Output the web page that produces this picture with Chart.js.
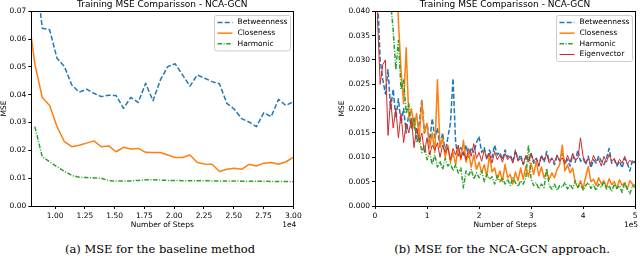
<!DOCTYPE html>
<html>
<head>
<meta charset="utf-8">
<script src="https://cdn.jsdelivr.net/npm/chart.js@4"></script>
<style>
  body { margin: 0; background: #fff; width: 640px; height: 256px; overflow: hidden; position: relative; }
  canvas { position: absolute; top: 0; }
  #c1 { left: 0; }
  #c2 { left: 320px; }
  .cap { position: absolute; top: 241px; font-family: "DejaVu Serif"; font-size: 11.5px; line-height: 16px; color: #000; white-space: nowrap; transform: translateX(-50%); }
</style>
</head>
<body>
<canvas id="c1" width="320" height="240"></canvas>
<canvas id="c2" width="320" height="240"></canvas>
<div class="cap" style="left:160px">(a) MSE for the baseline method</div>
<div class="cap" style="left:502px">(b) MSE for the NCA-GCN approach.</div>
<script>
// ---- left panel: baseline method ----
const leftSteps = [7680, 8300, 8920, 9540, 10160, 10780, 11400, 12020, 12640, 13260,
  13880, 14500, 15120, 15740, 16360, 16980, 17600, 18220, 18840, 19460,
  20080, 20700, 21320, 21940, 22560, 23180, 23800, 24420, 25040, 25660,
  26280, 26900, 27520, 28140, 28760, 29380, 30000];
const leftBetweenness = [0.100, 0.087, 0.0639, 0.0633, 0.0531, 0.0501, 0.0435, 0.0409, 0.0420, 0.0405,
  0.0393, 0.0398, 0.0397, 0.0351, 0.0390, 0.0372, 0.0441, 0.0378, 0.0453, 0.0501,
  0.0511, 0.0471, 0.0431, 0.0471, 0.0459, 0.0447, 0.0439, 0.0369, 0.0348, 0.0314,
  0.0302, 0.0285, 0.0335, 0.0321, 0.0383, 0.0361, 0.0375];
const leftCloseness = [0.071, 0.051, 0.0390, 0.0361, 0.0285, 0.0231, 0.0213, 0.0218, 0.0226, 0.0234,
  0.0213, 0.0216, 0.0195, 0.0211, 0.0205, 0.0207, 0.0193, 0.0192, 0.0192, 0.0183,
  0.0174, 0.0174, 0.0183, 0.0156, 0.0151, 0.0150, 0.0124, 0.0132, 0.0136, 0.0132,
  0.0150, 0.0144, 0.0154, 0.0156, 0.0150, 0.0159, 0.0175];
const leftHarmonic = [null, 0.0285, 0.0177, 0.0159, 0.0141, 0.0125, 0.0110, 0.0103, 0.0102, 0.0101,
  0.0100, 0.0091, 0.0090, 0.0090, 0.0090, 0.0092, 0.0094, 0.0094, 0.0093, 0.0092,
  0.0092, 0.0091, 0.0091, 0.0091, 0.0091, 0.0090, 0.0090, 0.0090, 0.0090, 0.0089,
  0.0089, 0.0089, 0.0089, 0.0088, 0.0088, 0.0088, 0.0087];
const leftXTicks = [10000, 12500, 15000, 17500, 20000, 22500, 25000, 27500, 30000];
const leftYTicks = [0, 0.01, 0.02, 0.03, 0.04, 0.05, 0.06, 0.07];

// ---- right panel: NCA-GCN ----
const rightSteps = [0, 5000, 10000, 15000, 20000, 25000, 30000, 35000, 40000, 45000,
  50000, 55000, 60000, 65000, 70000, 75000, 80000, 85000, 90000, 95000,
  100000, 105000, 110000, 115000, 120000, 125000, 130000, 135000, 140000, 145000,
  150000, 155000, 160000, 165000, 170000, 175000, 180000, 185000, 190000, 195000,
  200000, 205000, 210000, 215000, 220000, 225000, 230000, 235000, 240000, 245000,
  250000, 255000, 260000, 265000, 270000, 275000, 280000, 285000, 290000, 295000,
  300000, 305000, 310000, 315000, 320000, 325000, 330000, 335000, 340000, 345000,
  350000, 355000, 360000, 365000, 370000, 375000, 380000, 385000, 390000, 395000,
  400000, 405000, 410000, 415000, 420000, 425000, 430000, 435000, 440000, 445000,
  450000, 455000, 460000, 465000, 470000, 475000, 480000, 485000, 490000, 495000,
  500000];
const rightBetweenness = [0.075, 0.043, 0.030, 0.026, 0.023, 0.028, 0.020, 0.024, 0.018, 0.022,
  0.017, 0.020, 0.015, 0.019, 0.016, 0.018, 0.014, 0.017, 0.0218, 0.015,
  0.017, 0.013, 0.018, 0.014, 0.016, 0.012, 0.015, 0.011, 0.014, 0.017,
  0.0262, 0.013, 0.010, 0.012, 0.0105, 0.0125, 0.010, 0.012, 0.011, 0.013,
  0.0143, 0.011, 0.012, 0.0095, 0.0115, 0.010, 0.0125, 0.0105, 0.011, 0.0095,
  0.0115, 0.010, 0.0105, 0.009, 0.0115, 0.0095, 0.0105, 0.0085, 0.010, 0.0093,
  0.0108, 0.0088, 0.0098, 0.0082, 0.0105, 0.009, 0.0112, 0.0092, 0.0098, 0.0085,
  0.0102, 0.0093, 0.0108, 0.0088, 0.0096, 0.0082, 0.0105, 0.009, 0.0115, 0.0092,
  0.0098, 0.0085, 0.0102, 0.0078, 0.0095, 0.0088, 0.0103, 0.0092, 0.0085, 0.0098,
  0.0118, 0.0088, 0.0095, 0.0082, 0.0092, 0.0078, 0.0098, 0.0088, 0.0072, 0.0095,
  0.0088];
const rightCloseness = [null, null, null, null, null, null, null, null, 0.055, 0.038,
  0.028, 0.021, 0.0325, 0.018, 0.020, 0.016, 0.019, 0.014, 0.0215, 0.015,
  0.017, 0.012, 0.015, 0.011, 0.0259, 0.012, 0.014, 0.010, 0.0125, 0.009,
  0.011, 0.0085, 0.012, 0.0095, 0.0135, 0.009, 0.011, 0.008, 0.0105, 0.0075,
  0.009, 0.0068, 0.0085, 0.006, 0.0105, 0.007, 0.0078, 0.0055, 0.0072, 0.005,
  0.0085, 0.0058, 0.0065, 0.0045, 0.007, 0.0052, 0.0078, 0.0055, 0.0082, 0.006,
  0.0088, 0.0065, 0.0092, 0.0062, 0.008, 0.0058, 0.007, 0.0055, 0.0068, 0.0058,
  0.0075, 0.0085, 0.0125, 0.0072, 0.0084, 0.0068, 0.0078, 0.0048, 0.0038, 0.0052,
  0.0035, 0.006, 0.0081, 0.005, 0.0055, 0.0042, 0.0058, 0.0045, 0.0052, 0.0038,
  0.0056, 0.0044, 0.005, 0.0036, 0.0054, 0.0042, 0.0048, 0.0035, 0.0052, 0.0045,
  0.0042];
const rightHarmonic = [null, null, null, null, null, null, 0.042, 0.036, 0.028, 0.034,
  0.024, 0.026, 0.019, 0.021, 0.016, 0.018, 0.013, 0.0145, 0.011, 0.0125,
  0.0095, 0.011, 0.0085, 0.0105, 0.008, 0.0092, 0.0075, 0.0098, 0.0082, 0.0088,
  0.0072, 0.0085, 0.0068, 0.0078, 0.0037, 0.0072, 0.0062, 0.0075, 0.0055, 0.0068,
  0.0058, 0.0072, 0.005, 0.0065, 0.0055, 0.006, 0.0045, 0.0062, 0.005, 0.0058,
  0.0045, 0.0055, 0.0042, 0.0058, 0.0048, 0.004, 0.0052, 0.0045, 0.0058, 0.0125,
  0.0055, 0.0042, 0.0048, 0.0035, 0.0045, 0.0038, 0.0077, 0.0042, 0.0035, 0.0045,
  0.0032, 0.0042, 0.0038, 0.0048, 0.0035, 0.0044, 0.0036, 0.0052, 0.0038, 0.0046,
  0.0033, 0.0042, 0.0048, 0.0036, 0.0044, 0.0032, 0.0045, 0.0038, 0.005, 0.0035,
  0.0042, 0.003, 0.0045, 0.0036, 0.0042, 0.0028, 0.0048, 0.0034, 0.0025, 0.0042,
  0.0038];
const rightEigenvector = [0.06, 0.038, 0.025, 0.029, 0.030, 0.0145, 0.022, 0.016, 0.020, 0.014,
  0.019, 0.013, 0.017, 0.015, 0.018, 0.012, 0.016, 0.013, 0.015, 0.011,
  0.014, 0.0105, 0.0125, 0.0115, 0.013, 0.010, 0.0125, 0.011, 0.012, 0.0095,
  0.0118, 0.0105, 0.0125, 0.0098, 0.0112, 0.0095, 0.0118, 0.0102, 0.0128, 0.0098,
  0.011, 0.0092, 0.0115, 0.0098, 0.0108, 0.0088, 0.0112, 0.0095, 0.0105, 0.009,
  0.0108, 0.0095, 0.0102, 0.0088, 0.0112, 0.0092, 0.0098, 0.0086, 0.0104, 0.009,
  0.0108, 0.0092, 0.0098, 0.0084, 0.0102, 0.0094, 0.0106, 0.0088, 0.0098, 0.009,
  0.0105, 0.0092, 0.0099, 0.0086, 0.0104, 0.009, 0.0108, 0.0094, 0.0098, 0.014,
  0.0102, 0.0088, 0.0098, 0.0085, 0.0104, 0.0092, 0.0096, 0.0082, 0.0102, 0.009,
  0.0106, 0.0092, 0.0098, 0.0084, 0.0096, 0.0088, 0.0102, 0.0086, 0.0094, 0.0088,
  0.0092];
const rightXTicks = [0, 100000, 200000, 300000, 400000, 500000];
const rightYTicks = [0, 0.005, 0.01, 0.015, 0.02, 0.025, 0.03, 0.035, 0.04];

const BLUE = "#1f77b4", ORANGE = "#ff7f0e", GREEN = "#2ca02c", RED = "#d62728";
const DASHED = [5, 2.2];
const DASHDOT = [4.5, 1.6, 1, 1.6];

Chart.defaults.font.family = '"DejaVu Sans"';
Chart.defaults.font.size = 7.5;
Chart.defaults.color = "#000";

function pts(xs, ys) {
    return xs.map((x, i) => ({ x: x, y: ys[i] }));
}

function serie(label, xs, ys, color, dash, width, order) {
    return {
        label, data: pts(xs, ys), order,
        borderColor: color, backgroundColor: color,
        borderWidth: width, borderDash: dash, borderJoinStyle: "round",
        pointRadius: 0, tension: 0, fill: false
    };
}

// axes box, legend and the offset text (1e4 / 1e5)
const framePlugin = {
    id: "frame",
    afterDatasetsDraw(chart) {
        const { ctx, chartArea: a } = chart;
        ctx.save();
        ctx.strokeStyle = "#000";
        ctx.lineWidth = 1;
        ctx.strokeRect(Math.round(a.left) + 0.5, Math.round(a.top) + 0.5,
            Math.round(a.right - a.left), Math.round(a.bottom - a.top));
        ctx.restore();
    },
    afterDraw(chart, args, opts) {
        const { ctx, chartArea: a } = chart;
        const items = chart.data.datasets;
        ctx.save();
        ctx.font = '7.5px "DejaVu Sans"';
        const tw = Math.max(...items.map(d => ctx.measureText(d.label).width));
        const w = 3 + 15 + 5 + tw + 3;
        const h = 7 + (items.length - 1) * 10.67 + 7;
        const x0 = Math.round(a.right - 3 - w) + 0.5;
        const y0 = Math.round(a.top + 3.5) + 0.5;
        ctx.fillStyle = "rgba(255,255,255,0.8)";
        ctx.strokeStyle = "#cccccc";
        ctx.lineWidth = 1;
        ctx.beginPath();
        if (ctx.roundRect) ctx.roundRect(x0, y0, w, h, 2); else ctx.rect(x0, y0, w, h);
        ctx.fill();
        ctx.stroke();
        items.forEach((d, i) => {
            const y = y0 + 7 + i * 10.67;
            ctx.strokeStyle = d.borderColor;
            ctx.lineWidth = d.borderWidth;
            ctx.setLineDash(d.borderDash || []);
            ctx.beginPath();
            ctx.moveTo(x0 + 3, y);
            ctx.lineTo(x0 + 18, y);
            ctx.stroke();
            ctx.setLineDash([]);
            ctx.fillStyle = "#000";
            ctx.textAlign = "left";
            ctx.textBaseline = "middle";
            ctx.fillText(d.label, x0 + 23, y);
        });
        ctx.textAlign = "right";
        ctx.textBaseline = "middle";
        ctx.fillText(opts.offsetText, a.right + 3, 225);
        ctx.restore();
    }
};

function makeChart(id, datasets, o) {
    return new Chart(document.getElementById(id), {
        type: "line",
        data: { datasets },
        plugins: [framePlugin],
        options: {
            responsive: false,
            animation: false,
            devicePixelRatio: 1,
            layout: { padding: { left: o.padLeft, right: o.padRight, top: 0, bottom: 10 } },
            scales: {
                x: {
                    type: "linear", min: o.xMin, max: o.xMax,
                    afterBuildTicks: s => { s.ticks = o.xTicks.map(v => ({ value: v })); },
                    afterFit: s => { s.height = 24; },
                    grid: { drawOnChartArea: false, tickLength: 3, tickColor: "#000" },
                    border: { display: false },
                    ticks: { padding: 2.5, autoSkip: false, maxRotation: 0, callback: o.xFmt },
                    title: { display: true, text: "Number of Steps", padding: { top: 0, bottom: 0.5 } }
                },
                y: {
                    type: "linear", min: o.yMin, max: o.yMax,
                    afterBuildTicks: s => { s.ticks = o.yTicks.map(v => ({ value: v })); },
                    afterFit: s => { s.width = o.yWidth; },
                    grid: { drawOnChartArea: false, tickLength: 3, tickColor: "#000" },
                    border: { display: false },
                    ticks: { padding: 2, autoSkip: false, callback: o.yFmt },
                    title: { display: true, text: "MSE", padding: 0 }
                }
            },
            plugins: {
                legend: { display: false },
                tooltip: { enabled: false },
                title: {
                    display: true, fullSize: false,
                    text: "Training MSE Comparisson - NCA-GCN",
                    font: { size: 9, weight: "normal", lineHeight: 1.1 },
                    padding: { top: 0, bottom: 1.3 }
                },
                frame: { offsetText: o.offsetText }
            }
        }
    });
}

makeChart("c1", [
    serie("Betweenness", leftSteps, leftBetweenness, BLUE, DASHED, 1.5, 3),
    serie("Closeness", leftSteps, leftCloseness, ORANGE, [], 1.5, 2),
    serie("Harmonic", leftSteps, leftHarmonic, GREEN, DASHDOT, 1.5, 1)
], {
    padLeft: 0, padRight: 26.7, yWidth: 31.3,
    xMin: 8000, xMax: 30000, xTicks: leftXTicks, xFmt: v => (v / 1e4).toFixed(2),
    yMin: 0, yMax: 0.07, yTicks: leftYTicks, yFmt: v => v.toFixed(2),
    offsetText: "1e4"
});

makeChart("c2", [
    serie("Betweenness", rightSteps, rightBetweenness, BLUE, DASHED, 1.5, 4),
    serie("Closeness", rightSteps, rightCloseness, ORANGE, [], 1.5, 3),
    serie("Harmonic", rightSteps, rightHarmonic, GREEN, DASHDOT, 1.5, 2),
    serie("Eigenvector", rightSteps, rightEigenvector, RED, [], 1, 1)
], {
    padLeft: 18, padRight: 3.5, yWidth: 37,
    xMin: 0, xMax: 500000, xTicks: rightXTicks, xFmt: v => String(Math.round(v / 1e5)),
    yMin: 0, yMax: 0.04, yTicks: rightYTicks, yFmt: v => v.toFixed(3),
    offsetText: "1e5"
});
</script>
</body>
</html>
